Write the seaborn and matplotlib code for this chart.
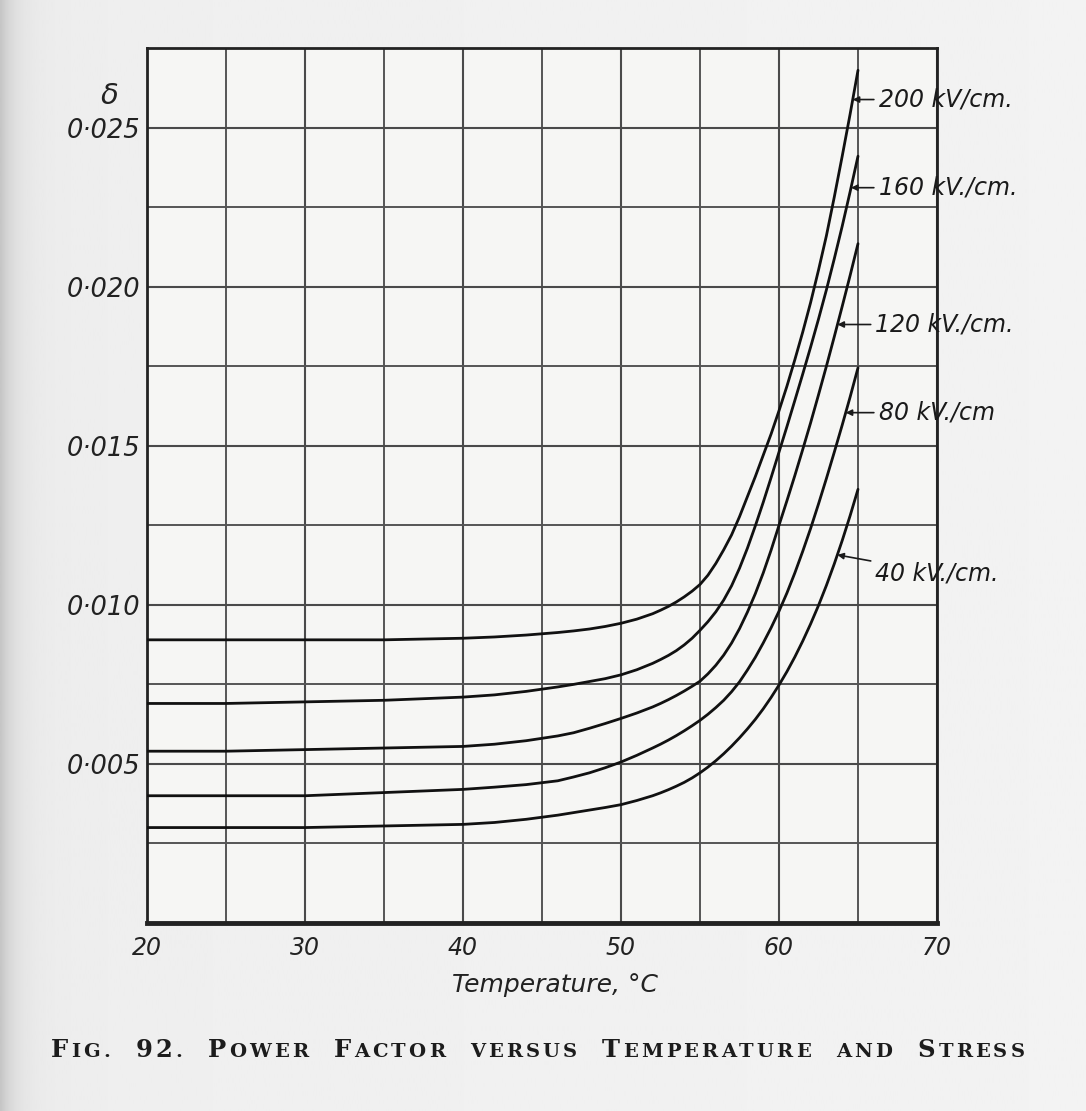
import numpy as np
import pandas as pd
import matplotlib
matplotlib.use("Agg")
import matplotlib.pyplot as plt
import seaborn as sns
from matplotlib.offsetbox import TextArea, HPacker, AnchoredOffsetbox, DrawingArea

# Temperature (deg C) at which each curve is sampled
temperature = [20, 25, 30, 35, 40, 42, 44, 46, 47, 48, 49, 50, 51,
               52, 52.5, 53, 53.5, 54, 54.5, 55, 55.5, 56, 56.5, 57, 57.5,
               58, 58.5, 59, 59.5, 60, 60.5, 61, 61.5, 62, 62.5, 63, 63.5,
               64, 64.5, 65]

# Power factor (delta) for each electric stress
pf_200 = [0.0089, 0.0089, 0.0089, 0.0089, 0.00895, 0.00899, 0.00905, 0.00913, 0.00918,
          0.00924, 0.00932, 0.00942, 0.00955,
          0.00972, 0.00983, 0.00995, 0.01009, 0.01025, 0.01043, 0.01064, 0.01093,
          0.0113, 0.01173, 0.0122, 0.01277, 0.0134, 0.01403, 0.0147, 0.01537,
          0.0161, 0.01687, 0.0177, 0.01857, 0.0195, 0.02052, 0.0216, 0.02282,
          0.0241, 0.02542, 0.0268]
pf_160 = [0.0069, 0.0069, 0.00695, 0.0070, 0.0071, 0.00717, 0.00728, 0.00742, 0.0075,
          0.00759, 0.00768, 0.0078, 0.00796,
          0.00816, 0.00828, 0.00841, 0.00856, 0.00874, 0.00895, 0.0092, 0.00947,
          0.00978, 0.01015, 0.0106, 0.01115, 0.01178, 0.01248, 0.01322, 0.014,
          0.0148, 0.0156, 0.01642, 0.01725, 0.0181, 0.01898, 0.0199, 0.02088,
          0.0219, 0.02298, 0.0241]
pf_120 = [0.0054, 0.0054, 0.00545, 0.0055, 0.00555, 0.00562, 0.00573, 0.00588, 0.00598,
          0.00612, 0.00627, 0.00643, 0.0066,
          0.00679, 0.0069, 0.00702, 0.00715, 0.00729, 0.00744, 0.0076, 0.00783,
          0.0081, 0.00842, 0.0088, 0.00925, 0.00977, 0.01035, 0.011, 0.01172,
          0.0125, 0.01327, 0.01406, 0.01488, 0.01572, 0.0166, 0.0175, 0.01843,
          0.01938, 0.02035, 0.02135]
pf_80 = [0.0040, 0.0040, 0.0040, 0.0041, 0.0042, 0.00427, 0.00435, 0.00447, 0.00459,
         0.00472, 0.00488, 0.00506, 0.00527,
         0.0055, 0.00562, 0.00575, 0.00589, 0.00604, 0.0062, 0.00637, 0.00656,
         0.00677, 0.007, 0.00727, 0.00758, 0.00795, 0.00835, 0.0088, 0.00928,
         0.0098, 0.01037, 0.011, 0.01168, 0.0124, 0.01317, 0.01397, 0.0148,
         0.01565, 0.01653, 0.01745]
pf_40 = [0.0030, 0.0030, 0.0030, 0.00305, 0.0031, 0.00316, 0.00326, 0.00339, 0.00347,
         0.00355, 0.00363, 0.00372, 0.00385,
         0.004, 0.00409, 0.00419, 0.0043, 0.00442, 0.00456, 0.00472, 0.0049,
         0.0051, 0.00532, 0.00556, 0.00582, 0.0061, 0.0064, 0.00673, 0.00709,
         0.00748, 0.0079, 0.00836, 0.00886, 0.0094, 0.00998, 0.01061, 0.01129,
         0.01202, 0.0128, 0.01363]

stress_labels = ["200 kV/cm.", "160 kV./cm.", "120 kV./cm.", "80 kV./cm", "40 kV./cm."]
series = [pf_200, pf_160, pf_120, pf_80, pf_40]

x_tick_values = [20, 30, 40, 50, 60, 70]
x_tick_labels = ["20", "30", "40", "50", "60", "70"]
y_tick_values = [0.005, 0.010, 0.015, 0.020, 0.025]
y_tick_labels = ["0·005", "0·010", "0·015", "0·020", "0·025"]

df = pd.concat(
    [pd.DataFrame({"temp": temperature, "pf": vals, "stress": lab})
     for lab, vals in zip(stress_labels, series)],
    ignore_index=True,
)

sns.set_theme(style="white")
plt.rcParams["font.family"] = ["DejaVu Sans"]

fig = plt.figure(figsize=(10.86, 11.11), dpi=100)
fig.patch.set_facecolor("#ededeb")

# paper tone with a darker scanned edge on the left
bg = fig.add_axes([0, 0, 1, 1])
xs = np.linspace(0, 1, 600)
tone = 0.935 - 0.14 * np.exp(-xs / 0.012) - 0.02 * np.exp(-xs / 0.05) + 0.015 * xs
bg.imshow(tone[np.newaxis, :], extent=(0, 1, 0, 1), aspect="auto",
          cmap="gray", vmin=0, vmax=1, interpolation="bilinear")
bg.set_xlim(0, 1)
bg.set_ylim(0, 1)
bg.axis("off")

ax = fig.add_axes([0.1354, 0.1692, 0.7274, 0.7876])
ax.set_facecolor("#f6f6f4")

for lab in stress_labels:
    sns.lineplot(data=df[df["stress"] == lab], x="temp", y="pf", ax=ax,
                 color="#111111", lw=2.0, estimator=None, sort=True, legend=False,
                 zorder=3)

ax.set_xlim(20, 70)
ax.set_ylim(0, 0.0275)

ax.set_xticks(x_tick_values)
ax.set_xticklabels(x_tick_labels, fontsize=17, style="italic", color="#222222")
ax.set_xticks(np.arange(25, 70, 10), minor=True)
ax.set_yticks(y_tick_values)
ax.set_yticklabels(y_tick_labels, fontsize=18.5, style="italic", color="#222222")
ax.set_yticks(np.arange(0.0025, 0.0275, 0.005), minor=True)
ax.tick_params(axis="both", which="both", length=0)
ax.tick_params(axis="y", pad=4.5)
ax.tick_params(axis="x", pad=9)

ax.grid(which="major", color="#4a4a4a", lw=1.5, zorder=1)
ax.grid(which="minor", color="#555555", lw=1.4, zorder=1)
ax.set_axisbelow(True)

for side in ["left", "right", "top"]:
    ax.spines[side].set_color("#222222")
    ax.spines[side].set_linewidth(2.0)
ax.spines["bottom"].set_color("#222222")
ax.spines["bottom"].set_linewidth(3.5)

ax.set_xlabel("")
ax.set_ylabel("")

# delta symbol above the value axis
ax.text(-0.047, 0.945, "δ", transform=ax.transAxes, fontsize=21,
        style="italic", ha="center", va="center", color="#222222")

fig.text(0.511, 0.1134, "Temperature, °C", fontsize=18, style="italic",
         ha="center", va="center", color="#222222")

# stress labels with arrows pointing onto their curves
label_pos = [(66.3, 0.02588), (66.3, 0.02311), (66.1, 0.01881), (66.3, 0.01604), (66.1, 0.0110)]
for lab, vals, (tx, ty) in zip(stress_labels, series, label_pos):
    tip_v = ty if lab != "40 kV./cm." else 0.01157
    tip_t = float(np.interp(tip_v, vals, temperature))
    ax.annotate(lab, xy=(tip_t, tip_v), xytext=(tx, ty),
                textcoords="data", fontsize=17, style="italic",
                ha="left", va="center", color="#1a1a1a", annotation_clip=False,
                arrowprops=dict(arrowstyle="-|>", color="#1a1a1a", lw=1.2,
                                mutation_scale=9, shrinkA=1, shrinkB=0))

# caption set in letter-spaced small capitals
words = ["Fig.", "92.", "Power", "Factor", "versus", "Temperature", "and", "Stress"]
big, small = 17.5, 14.0
font = dict(family="DejaVu Serif", weight="bold", color="#1c1c1c")
parts = []
for i, w in enumerate(words):
    for j, ch in enumerate(w):
        if (j == 0 and ch.isupper()) or ch.isdigit():
            size = big
        else:
            size = small
        glyph = ch if size == big else ch.upper()
        parts.append(TextArea(glyph, textprops=dict(size=size, **font)))
    if i < len(words) - 1:
        parts.append(DrawingArea(14, 0))
caption = HPacker(children=parts, align="baseline", pad=0, sep=2.2)
box = AnchoredOffsetbox(loc="center", child=caption, frameon=False,
                        bbox_to_anchor=(0.495, 0.0549), bbox_transform=fig.transFigure,
                        pad=0, borderpad=0)
fig.add_artist(box)

fig.savefig("out.png", dpi=100, facecolor=fig.get_facecolor())
